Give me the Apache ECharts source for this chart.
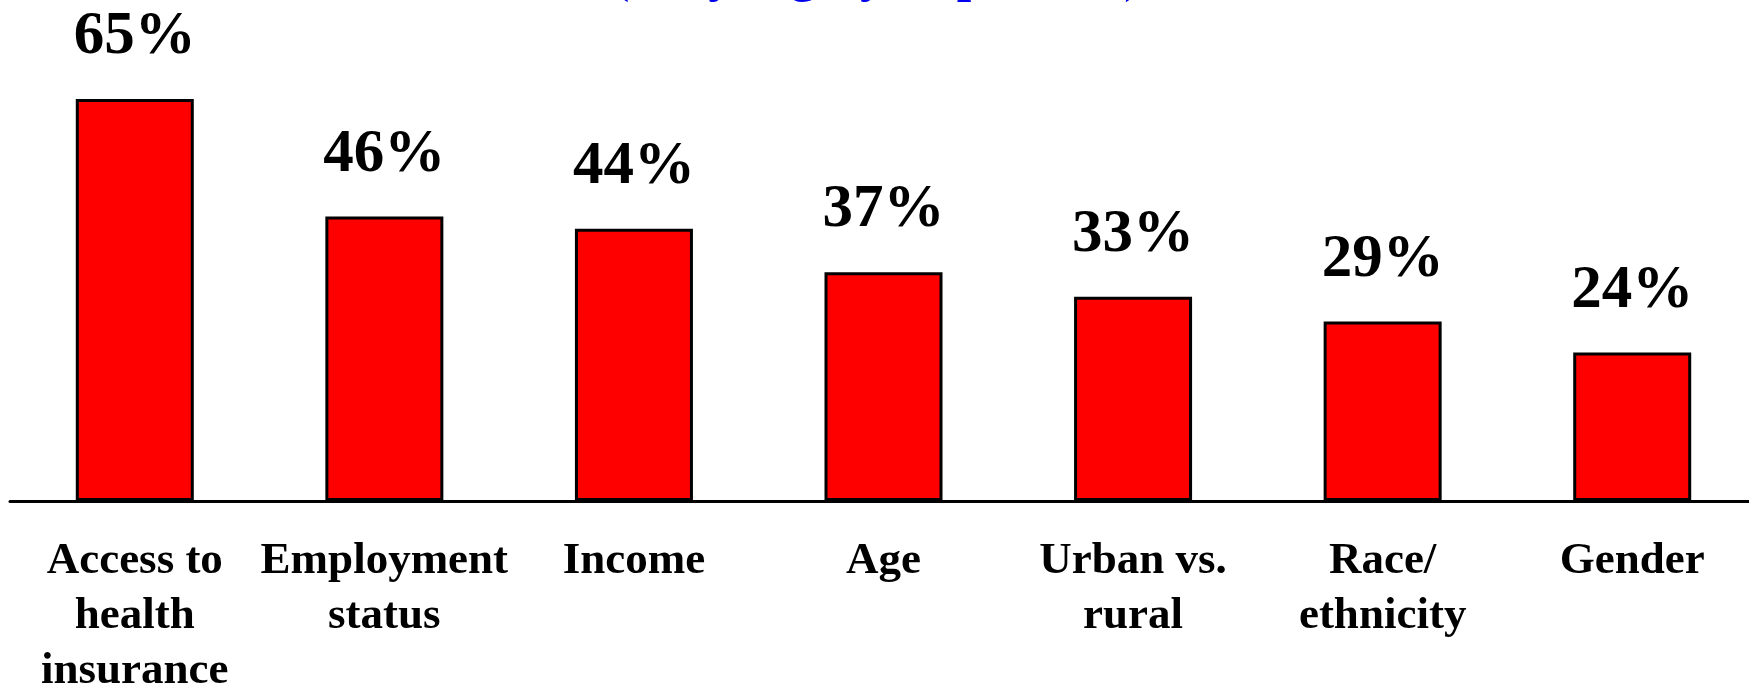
<!DOCTYPE html>
<html>
<head>
<meta charset="utf-8">
<script src="https://cdn.jsdelivr.net/npm/echarts@6/dist/echarts.min.js"></script>
<style>
html,body{margin:0;padding:0;background:#fff;}
#chart{width:1749px;height:684px;}
</style>
</head>
<body>
<div id="chart"></div>
<script>
var titleText = '(Very highly important)';
var categories = ['Access to\nhealth\ninsurance', 'Employment\nstatus', 'Income', 'Age', 'Urban vs.\nrural', 'Race/\nethnicity', 'Gender'];
var values = [65, 46, 44, 37, 33, 29, 24];

var chart = echarts.init(document.getElementById('chart'), null, {renderer: 'canvas'});
var serif = '"Liberation Serif", "Times New Roman", serif';
chart.setOption({
  animation: false,
  backgroundColor: '#ffffff',
  graphic: [{
    type: 'text',
    x: 612,
    y: -22,
    style: {
      text: titleText,
      fill: '#0000EE',
      fontFamily: serif,
      fontWeight: 'bold',
      fontSize: 52,
      lineHeight: 52,
      align: 'left',
      verticalAlign: 'middle'
    }
  }],
  grid: {left: 10, top: 68, width: 1747, height: 433, containLabel: false, outerBoundsMode: 'none'},
  xAxis: {
    type: 'category',
    data: categories,
    axisLine: {lineStyle: {color: '#000', width: 3}},
    axisTick: {show: false},
    axisLabel: {
      interval: 0,
      margin: 33,
      color: '#000',
      fontFamily: serif,
      fontWeight: 'bold',
      fontSize: 45,
      lineHeight: 55,
      align: 'center'
    }
  },
  yAxis: {type: 'value', min: 0, max: 70, show: false},
  series: [{
    type: 'bar',
    data: values,
    barWidth: 118,
    itemStyle: {color: '#FF0000', borderColor: '#000', borderWidth: 3},
    label: {
      show: true,
      position: 'top',
      distance: 31,
      formatter: '{c}%',
      color: '#000',
      fontFamily: serif,
      fontWeight: 'bold',
      fontSize: 61,
      lineHeight: 61
    }
  }]
});
</script>
</body>
</html>
